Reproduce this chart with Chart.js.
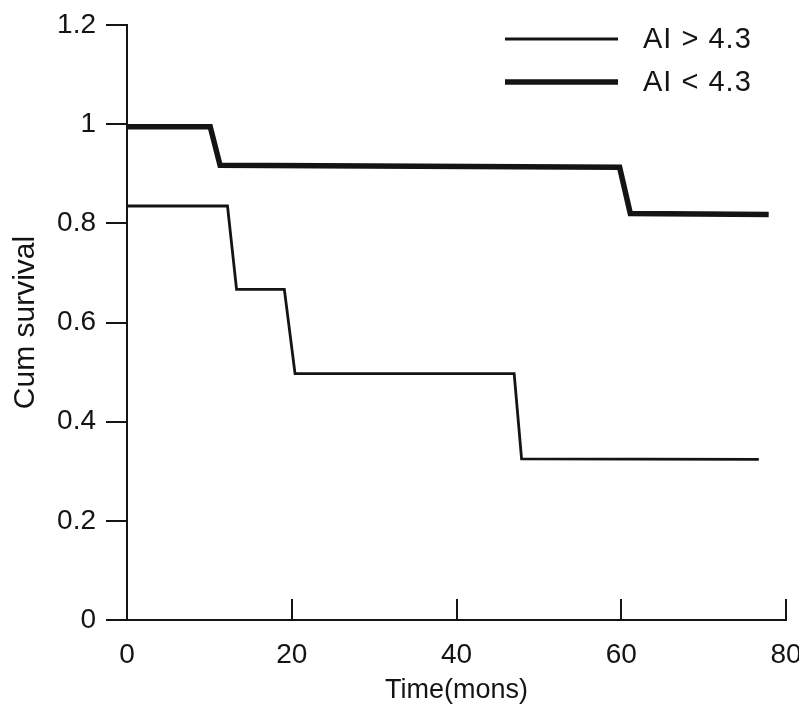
<!DOCTYPE html>
<html>
<head>
<meta charset="utf-8">
<script src="https://cdn.jsdelivr.net/npm/chart.js@4.4.1/dist/chart.umd.min.js"></script>
<style>
  html, body { margin: 0; padding: 0; background: #fff; }
  #wrap { width: 799px; height: 715px; }
</style>
</head>
<body>
<div id="wrap"><canvas id="km" width="799" height="715"></canvas></div>
<script>
  // Kaplan-Meier curves (months, cumulative survival).
  // Step drops are slightly slanted in the original, so each drop has two points.
  var highAiTime = [0, 12.2, 13.3, 19.1, 20.4, 47.0, 47.9, 76.7];
  var highAiSurv = [0.835, 0.835, 0.667, 0.667, 0.497, 0.497, 0.325, 0.324];
  var lowAiTime = [0, 10.1, 11.3, 59.8, 61.1, 77.9];
  var lowAiSurv = [0.995, 0.995, 0.917, 0.913, 0.82, 0.818];
  var seriesLabels = ["AI > 4.3", "AI < 4.3"];
  var xTicks = [0, 20, 40, 60, 80];
  var yTicks = [0, 0.2, 0.4, 0.6, 0.8, 1, 1.2];

  var INK = "#141414";
  var FONT = "'Liberation Sans', Arial, Helvetica, sans-serif";

  function toPoints(xs, ys) {
    return xs.map(function (x, i) { return { x: x, y: ys[i] }; });
  }

  // X-axis ticks in the scan point up into the plot, so draw them by hand.
  var inwardTicks = {
    id: "inwardTicks",
    afterDraw: function (chart) {
      var xs = chart.scales.x, ctx = chart.ctx;
      ctx.save();
      ctx.strokeStyle = INK;
      ctx.lineWidth = 2;
      xs.ticks.forEach(function (t) {
        var px = Math.round(xs.getPixelForValue(t.value));
        ctx.beginPath();
        ctx.moveTo(px, xs.top);
        ctx.lineTo(px, xs.top - 21);
        ctx.stroke();
      });
      ctx.restore();
    }
  };

  // Stacked legend in the upper right: line sample, then label.
  var stackedLegend = {
    id: "stackedLegend",
    afterDraw: function (chart) {
      var ctx = chart.ctx;
      ctx.save();
      ctx.font = "29px " + FONT;
      ctx.letterSpacing = "1px";
      ctx.textBaseline = "middle";
      chart.data.datasets.forEach(function (ds, i) {
        var y = 39 + i * 43;
        ctx.strokeStyle = ds.borderColor;
        ctx.lineWidth = ds.borderWidth;
        ctx.beginPath();
        ctx.moveTo(505, y);
        ctx.lineTo(618, y);
        ctx.stroke();
        ctx.fillStyle = INK;
        ctx.fillText(ds.label, 643, y + 1);
      });
      ctx.restore();
    }
  };

  new Chart(document.getElementById("km").getContext("2d"), {
    type: "line",
    data: {
      datasets: [{
        label: seriesLabels[0],
        data: toPoints(highAiTime, highAiSurv),
        borderColor: INK,
        borderWidth: 2.8,
        pointRadius: 0,
        tension: 0,
        fill: false
      }, {
        label: seriesLabels[1],
        data: toPoints(lowAiTime, lowAiSurv),
        borderColor: INK,
        borderWidth: 5.5,
        pointRadius: 0,
        tension: 0,
        fill: false
      }]
    },
    options: {
      responsive: false,
      animation: false,
      layout: { padding: { left: 0, right: 13, top: 25, bottom: 0 } },
      plugins: { legend: { display: false }, tooltip: { enabled: false } },
      scales: {
        x: {
          type: "linear",
          min: 0,
          max: 80,
          afterBuildTicks: function (s) {
            s.ticks = xTicks.map(function (v) { return { value: v }; });
          },
          afterFit: function (s) {
            s.height = 95;
            s.paddingLeft = 0;
            s.paddingRight = 0;
          },
          grid: { display: false, drawTicks: false },
          border: { display: true, color: INK, width: 2 },
          ticks: {
            color: INK,
            padding: 18,
            maxRotation: 0,
            font: { family: FONT, size: 28 }
          },
          title: {
            display: true,
            text: "Time(mons)",
            color: INK,
            padding: { top: 0, bottom: 8 },
            font: { family: FONT, size: 27 }
          }
        },
        y: {
          min: 0,
          max: 1.2,
          afterBuildTicks: function (s) {
            s.ticks = yTicks.map(function (v) { return { value: v }; });
          },
          afterFit: function (s) {
            s.width = 127;
            s.paddingTop = 0;
            s.paddingBottom = 0;
          },
          grid: {
            drawOnChartArea: false,
            drawTicks: true,
            tickLength: 21,
            color: INK,
            lineWidth: 2
          },
          border: { display: true, color: INK, width: 2 },
          ticks: {
            color: INK,
            padding: 10,
            font: { family: FONT, size: 28 },
            callback: function (v) { return String(Math.round(v * 10) / 10); }
          },
          title: {
            display: true,
            text: "Cum survival",
            color: INK,
            padding: { top: 8, bottom: 0 },
            font: { family: FONT, size: 30 }
          }
        }
      }
    },
    plugins: [inwardTicks, stackedLegend]
  });
</script>
</body>
</html>
